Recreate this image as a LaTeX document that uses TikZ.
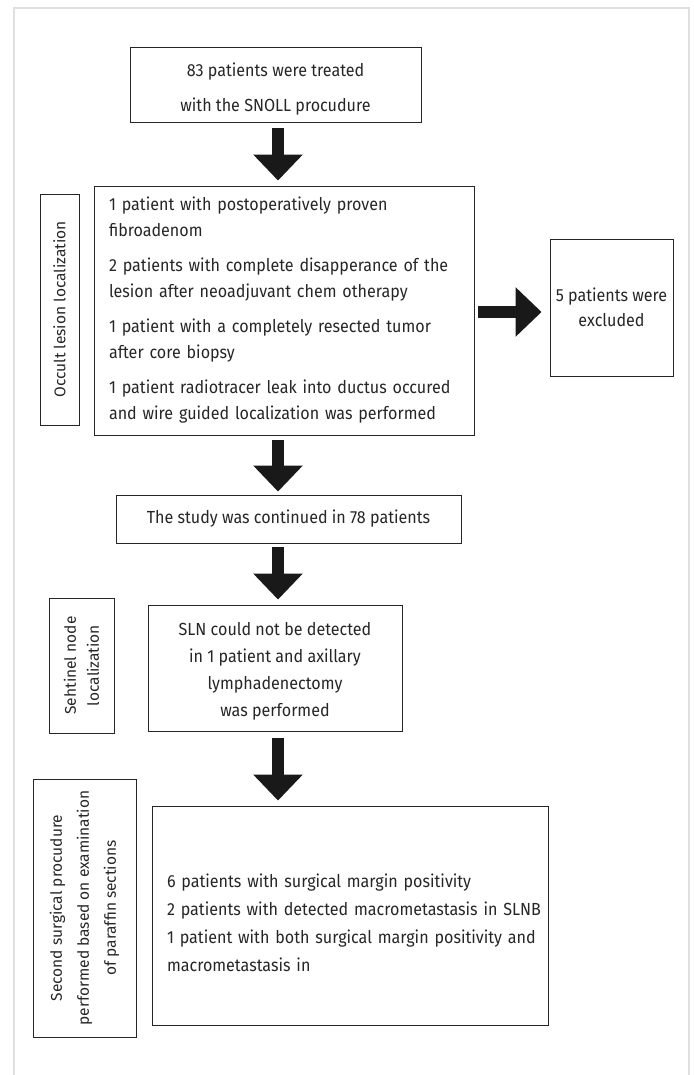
\documentclass[tikz,border=0pt]{standalone}
\usepackage{fontspec}
\setmainfont{Fira Sans}[FakeStretch=0.92]
\newfontfamily\sidefont{Fira Sans}
\usetikzlibrary{arrows.meta}

\tikzset{
  flowbox/.style={draw=black!85, line width=0.9pt, inner sep=0pt, text=black!85,
    font=\fontsize{17.5}{26}\selectfont},
  sidebox/.style={draw=black!85, line width=0.9pt, inner sep=0pt, text=black!85,
    rotate=90, align=center, font=\sidefont\fontsize{15.5}{23}\selectfont},
  bigarrow/.style={draw=black!90, line width=12pt, -{Triangle[length=26pt,width=48pt]}},
}

\begin{document}
\begin{tikzpicture}[x=1pt,y=-1pt]
  \useasboundingbox (0,0) rectangle (693,1075);
  \draw [black!12, line width=2.5pt] (14,1075) -- (14,8) -- (689,8) -- (689,1075); % page frame

  \node [flowbox, minimum width=291pt, minimum height=75pt, align=center] (treated) at (275.5,84.5)
    {\rule{0pt}{23pt}83 patients were treated\\[9pt]with the SNOLL procudure}; % first box

  \node [flowbox, minimum width=380pt, minimum height=249pt, text width=350pt, align=left] (lesions) at (284,310.5)
    {1 patient with postoperatively proven\\ fibroadenom\\[9pt]
     2 patients with complete disapperance of the\\ lesion after neoadjuvant chem otherapy\\[9pt]
     1 patient with a completely resected tumor\\ after core biopsy\\[9pt]
     1 patient radiotracer leak into ductus occured\\ and wire guided localization was performed};
  \node [sidebox, minimum width=231pt, minimum height=39pt] (occult) at (59.5,309.5) {Occult lesion localization};

  \node [flowbox, minimum width=123pt, minimum height=137pt, align=center] (excluded) at (611.5,307.5)
    {5 patients were\\[-1pt]excluded};

  \node [flowbox, minimum width=345pt, minimum height=48pt] (study) at (288.5,519)
    {The study was continued in 78 patients};

  \node [flowbox, minimum width=254pt, minimum height=126pt, align=center] (sln) at (275,668)
    {\rule{0pt}{19pt}SLN could not be detected\\[1pt]in 1 patient and axillary\\[1pt]lymphadenectomy\\[1pt]was performed};
  \node [sidebox, minimum width=135pt, minimum height=65pt] (sentinel) at (81.5,665.5) {Sehtinel node\\localization};

  \node [flowbox, minimum width=396pt, minimum height=219pt, text width=366pt, align=left] (second) at (350,915.5)
    {\rule{0pt}{28pt}6 patients with surgical margin positivity\\[2pt]
     \mbox{2 patients with detected macrometastasis in SLNB}\\[2pt]
     \mbox{1 patient with both surgical margin positivity and}\\[2pt]
     macrometastasis in};
  \node [sidebox, minimum width=258pt, minimum height=103pt] (reop) at (84.5,908)
    {Second surgical procudure\\[4pt]performed based on examination\\[4pt]of paraffin sections};

  % block arrows
  \coordinate (ax) at (278,0);
  \coordinate (ay) at (0,312);
  \draw [bigarrow, shorten <=6pt, shorten >=5pt] (treated.south -| ax) -- (lesions.north -| ax);
  \draw [bigarrow, shorten <=5pt, shorten >=3pt] (lesions.south -| ax) -- (study.north -| ax);
  \draw [bigarrow, shorten <=4pt, shorten >=5pt] (study.south -| ax) -- (sln.north -| ax);
  \draw [bigarrow, shorten <=7pt, shorten >=5pt] (sln.south -| ax) -- (second.north -| ax);
  \draw [bigarrow, shorten <=4pt, shorten >=8pt] (lesions.east |- ay) -- (excluded.west |- ay);
\end{tikzpicture}
\end{document}
